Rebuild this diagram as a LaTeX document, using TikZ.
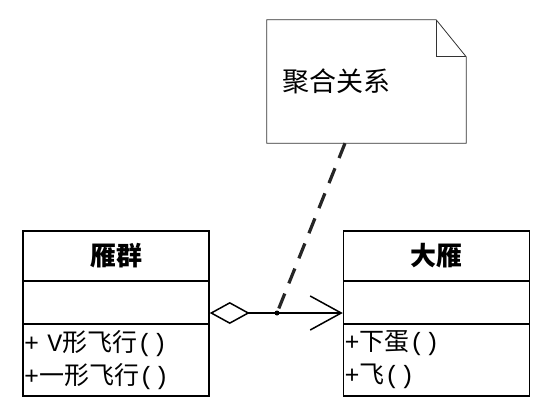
\documentclass[tikz,border=0pt]{standalone}
\usepackage{fontspec}
\newfontfamily\cjk{Noto Sans CJK SC}
\newfontfamily\latfont{Liberation Mono}
\newcommand\lat[1]{{\latfont #1}}
\usetikzlibrary{arrows.meta}

\tikzset{
  compart/.style={draw,line width=1.5pt,minimum width=186pt,inner sep=0pt},
  classname/.style={compart,minimum height=50pt,font=\cjk\bfseries\fontsize{26}{28}\selectfont},
  classattr/.style={compart,minimum height=43pt},
  classops/.style={compart,minimum height=72pt,text width=184pt,inner xsep=1pt,align=left,
    font=\cjk\fontsize{25}{33}\selectfont},
  notebox/.style={minimum width=199pt,minimum height=123pt,text width=169pt,inner xsep=15pt,
    align=left,font=\cjk\fontsize{27}{30}\selectfont},
  noteline/.style={draw=black!80,line width=0.8pt},
  agg/.style={line width=1.5pt,{Diamond[open,length=40pt,width=22pt]}-{Straight Barb[length=31pt,width=34pt]}},
  notelink/.style={line width=3.2pt,dash pattern=on 16pt off 11pt,black!85}
}

\begin{document}
\begin{tikzpicture}[x=1pt,y=-1pt]
  \useasboundingbox (0,0) rectangle (553,417);

  % Class 雁群
  \node[classname] (qunname) at (116,256) {雁群};
  \node[classattr] (qunattr) at (116,302.5) {};
  \node[classops] (qunops) at (116,360) {\lat{+ V}形飞行\lat{()}\\\lat{+}一形飞行\lat{()}};

  % Class 大雁
  \node[classname] (yanname) at (436.5,256) {大雁};
  \node[classattr] (yanattr) at (436.5,302.5) {};
  \node[classops] (yanops) at (436.5,360) {\lat{+}下蛋\lat{()}\\\lat{+}飞\lat{()}};

  % Aggregation
  \draw[agg] ([yshift=-10.5pt]qunattr.east) -- ([yshift=-10.5pt]yanattr.west);
  \node[circle,fill,inner sep=0pt,minimum size=5pt] (link) at (277,313) {};

  % Note
  \node[notebox] (note) at (366.5,81.5) {聚合关系};
  \draw[noteline] (note.south west) -- (note.north west) -- ([xshift=-30pt]note.north east)
    -- ([yshift=-37pt]note.north east) -- (note.south east) -- cycle;
  \draw[noteline] ([xshift=-30pt]note.north east) |- ([yshift=-37pt]note.north east);
  \coordinate (notefoot) at ([xshift=-21.5pt]note.south);
  \draw[notelink] (notefoot) -- (link.center);
\end{tikzpicture}
\end{document}
